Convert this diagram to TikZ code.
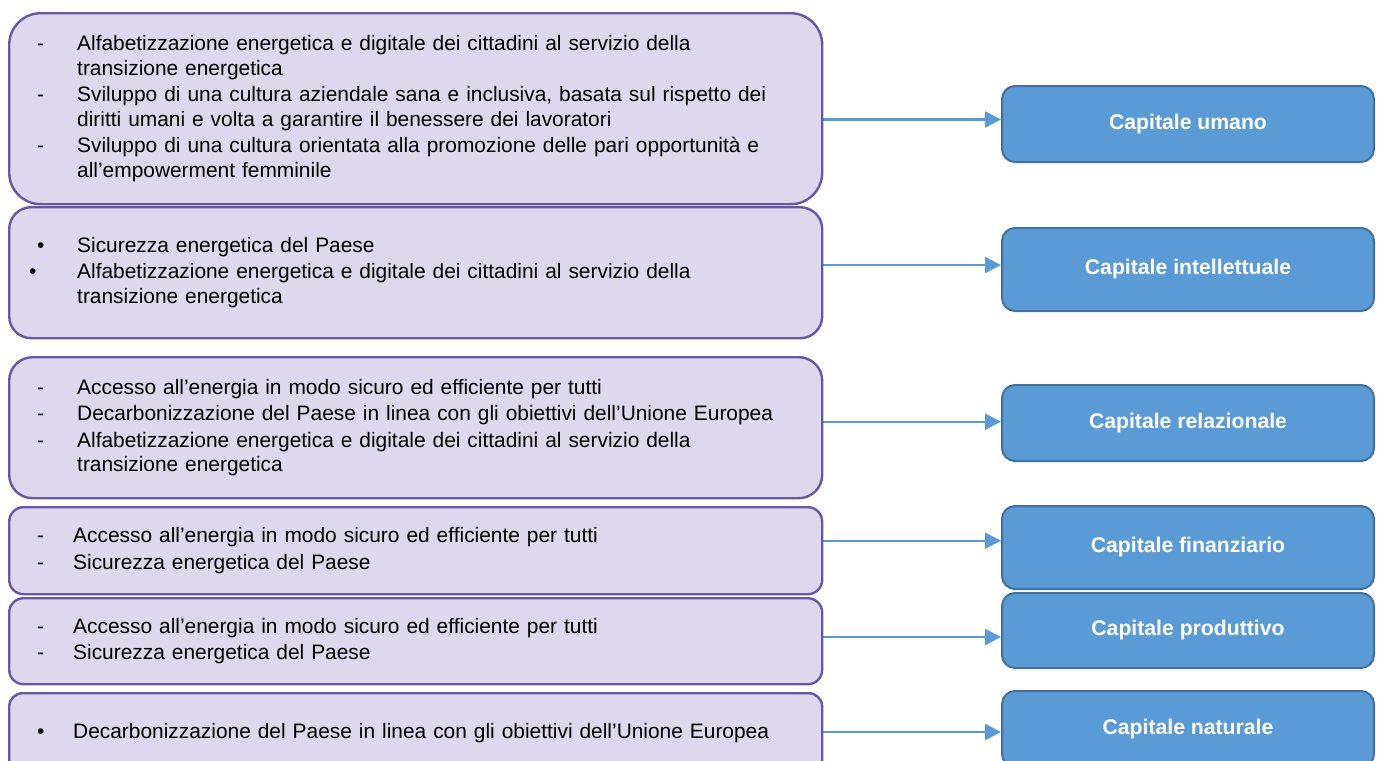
\documentclass[tikz,border=0pt]{standalone}
\usepackage{fontspec}
\setmainfont{Liberation Sans}
\usepackage{xcolor}
\usetikzlibrary{arrows.meta}
\definecolor{lilla}{RGB}{221,216,237}
\definecolor{lillabordo}{RGB}{104,87,165}
\definecolor{azzurro}{RGB}{91,155,213}
\definecolor{azzurrobordo}{RGB}{65,113,156}
\tikzstyle{obiettivo} = [draw=lillabordo, line width=1.2pt, fill=lilla, anchor=north west, minimum width=406.5pt, inner xsep=14pt, inner ysep=0pt, text width=378.5pt, align=left, font=\fontsize{10.45}{12.4}\selectfont]
\tikzstyle{capitale} = [draw=azzurrobordo, line width=1pt, fill=azzurro, anchor=north west, minimum width=186pt, rounded corners=6.5pt, text=white, font=\fontsize{10.6}{12.4}\selectfont\bfseries]
\tikzstyle{freccia} = [azzurro, line width=1.2pt, -{Triangle[length=8pt,width=8pt]}]
\newcommand{\voce}[2][20pt]{\makebox[#1][l]{#2}}

\begin{document}
\begin{tikzpicture}[x=0.5pt, y=-0.5pt]
    \useasboundingbox (0,0) rectangle (1380,760);
    % obiettivi (left column)
    \node[obiettivo, minimum height=95.5pt, rounded corners=15.8pt] (p1) at (8,12) {%
        \voce{-}Alfabetizzazione energetica e digitale dei cittadini al servizio della\\
        \voce{}transizione energetica\\[0.8pt]
        \voce{-}Sviluppo di una cultura aziendale sana e inclusiva, basata sul rispetto dei\\
        \voce{}diritti umani e volta a garantire il benessere dei lavoratori\\[0.8pt]
        \voce{-}Sviluppo di una cultura orientata alla promozione delle pari opportunità e\\
        \voce{}all’empowerment femminile};
    \node[obiettivo, minimum height=65.5pt, rounded corners=11pt] (p2) at (8,206) {%
        \voce{•}Sicurezza energetica del Paese\\[0.8pt]
        \hspace*{-4pt}\voce[24pt]{•}Alfabetizzazione energetica e digitale dei cittadini al servizio della\\
        \voce{}transizione energetica};
    \node[obiettivo, minimum height=70.5pt, rounded corners=11.7pt] (p3) at (8,356) {%
        \voce{-}Accesso all’energia in modo sicuro ed efficiente per tutti\\[0.8pt]
        \voce{-}Decarbonizzazione del Paese in linea con gli obiettivi dell’Unione Europea\\[0.8pt]
        \voce{-}Alfabetizzazione energetica e digitale dei cittadini al servizio della\\
        \voce{}transizione energetica};
    \node[obiettivo, minimum height=43.5pt, rounded corners=7.2pt] (p4) at (8,506) {%
        \voce[18pt]{-}Accesso all’energia in modo sicuro ed efficiente per tutti\\[0.8pt]
        \voce[18pt]{-}Sicurezza energetica del Paese};
    \node[obiettivo, minimum height=43pt, rounded corners=7.2pt] (p5) at (8,597) {%
        \voce[18pt]{-}Accesso all’energia in modo sicuro ed efficiente per tutti\\[0.8pt]
        \voce[18pt]{-}Sicurezza energetica del Paese};
    \node[obiettivo, minimum height=40pt, rounded corners=6.7pt] (p6) at (8,692) {%
        \voce[18pt]{•}Decarbonizzazione del Paese in linea con gli obiettivi dell’Unione Europea};
    % capitali (right column)
    \node[capitale, minimum height=38pt] (c1) at (1001,85) {Capitale umano};
    \node[capitale, minimum height=41.5pt] (c2) at (1001,227) {Capitale intellettuale};
    \node[capitale, minimum height=38pt] (c3) at (1001,384) {Capitale relazionale};
    \node[capitale, minimum height=41.5pt] (c4) at (1001,505) {Capitale finanziario};
    \node[capitale, minimum height=37.5pt] (c5) at (1001,592) {Capitale produttivo};
    \node[capitale, minimum height=38pt] (c6) at (1001,690) {Capitale naturale};
    % frecce
    \foreach \i/\y in {1/119.5, 2/265, 3/421.7, 4/540.7, 5/637, 6/732} {
        \coordinate (h\i) at (0,\y);
        \draw[freccia] (p\i.east |- h\i) -- (c\i.west |- h\i);
    }
\end{tikzpicture}
\end{document}
